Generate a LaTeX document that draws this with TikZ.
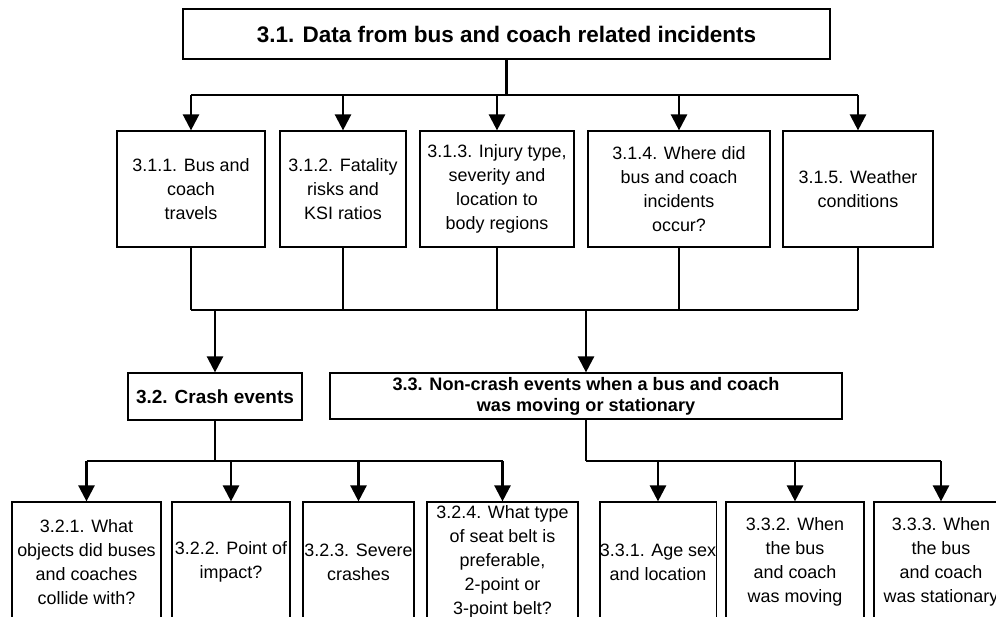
\documentclass[tikz,border=0pt]{standalone}
\usepackage{fontspec}
\setmainfont{Liberation Sans}
\usetikzlibrary{arrows.meta}

\begin{document}
\begin{tikzpicture}[x=0.02cm,y=-0.02cm,
  box/.style={draw, line width=0.7pt, align=center, inner xsep=0pt, inner ysep=0pt,
    font=\fontsize{10.2}{13.6}\selectfont},
  head/.style={draw, line width=0.7pt, align=center, inner sep=0pt,
    font=\bfseries\fontsize{10.8}{12.2}\selectfont},
  link/.style={line width=1.4pt},
  arr/.style={line width=1.4pt, -{Triangle[length=0.32cm,width=0.32cm]}}]
\useasboundingbox (0,0) rectangle (996,616);
\clip (0,0) rectangle (996,616);

% top box
\node[head, minimum width=12.94cm, minimum height=1cm,
  font=\bfseries\fontsize{12.8}{15}\selectfont] (data) at (506.5,34)
  {3.1. Data from bus and coach related incidents};

% second level
\node[box, minimum width=2.96cm, minimum height=2.32cm] (travel) at (191,189) {3.1.1. Bus and\\coach\\travels};
\node[box, minimum width=2.52cm, minimum height=2.32cm] (fatal) at (343,189) {3.1.2. Fatality\\risks and\\KSI ratios};
\node[box, minimum width=3.08cm, minimum height=2.32cm] (injury) at (497,189) {3.1.3. Injury type,\\severity and\\location to\\body regions};
\node[box, minimum width=3.64cm, minimum height=2.32cm] (where) at (679,189) {3.1.4. Where did\\bus and coach\\incidents\\occur?};
\node[box, minimum width=3.0cm, minimum height=2.32cm] (weather) at (858,189) {3.1.5. Weather\\conditions};

% third level
\node[head, minimum width=3.48cm, minimum height=0.94cm] (crash) at (215,396.5) {3.2. Crash events};
\node[head, minimum width=10.24cm, minimum height=0.92cm,
  font=\bfseries\fontsize{10.3}{12}\selectfont] (noncrash) at (586,396)
  {3.3. Non-crash events when a bus and coach\\was moving or stationary};

% bottom level
\node[box, minimum width=2.98cm, minimum height=2.4cm] (objects) at (86.5,562) {3.2.1. What\\objects did buses\\and coaches\\collide with?};
\node[box, minimum width=2.36cm, minimum height=2.4cm] (impact) at (231,562) {3.2.2. Point of\\impact?};
\node[box, minimum width=2.22cm, minimum height=2.4cm] (severe) at (358.5,562) {3.2.3. Severe\\crashes};
\node[box, minimum width=3.02cm, minimum height=2.4cm] (belt) at (502.5,562) {3.2.4. What type\\of seat belt is\\preferable,\\2-point or\\3-point belt?};
\node[box, minimum width=2.32cm, minimum height=2.4cm] (age) at (658,562) {3.3.1. Age sex\\and location};
\node[box, minimum width=2.76cm, minimum height=2.4cm] (moving) at (795,562) {3.3.2. When\\the bus\\and coach\\was moving};
\node[box, minimum width=2.68cm, minimum height=2.4cm] (still) at (941,562) {3.3.3. When\\the bus\\and coach\\was stationary};

\coordinate (bus1) at (0,95);
\coordinate (bus2) at (0,310);
\coordinate (bus3) at (0,461);

% top to second level
\draw[link] (data.south) -- (data.south |- bus1);
\draw[link] (travel |- bus1) -- (weather |- bus1);
\foreach \n in {travel,fatal,injury,where,weather}
{	\draw[arr] (\n |- bus1) -- (\n.north);
	\draw[link] (\n.south) -- (\n |- bus2);
}
\draw[link] (travel |- bus2) -- (weather |- bus2);
\foreach \n in {crash,noncrash}
{	\draw[arr] (\n |- bus2) -- (\n.north);
	\draw[link] (\n.south) -- (\n |- bus3);
}

% crash events
\draw[link] (objects |- bus3) -- (belt |- bus3);
\foreach \n in {objects,impact,severe,belt}
{	\draw[arr] (\n |- bus3) -- (\n.north);
}

% non-crash events
\draw[link] (noncrash |- bus3) -- (still |- bus3);
\foreach \n in {age,moving,still}
{	\draw[arr] (\n |- bus3) -- (\n.north);
}
\end{tikzpicture}
\end{document}
